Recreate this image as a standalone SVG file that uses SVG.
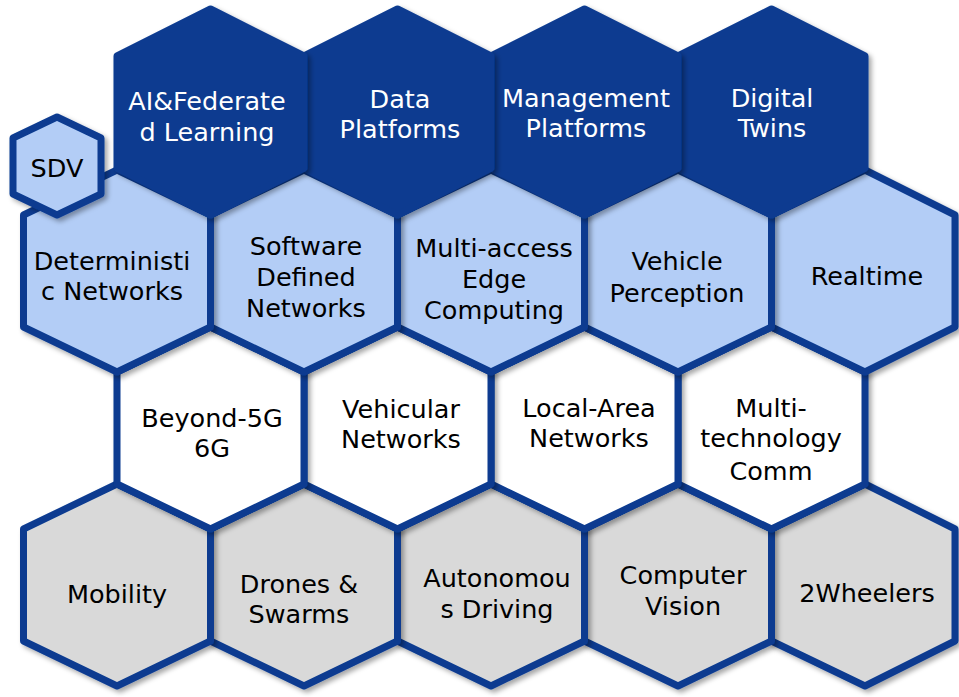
<svg xmlns="http://www.w3.org/2000/svg" width="959" height="697" viewBox="0 0 959 697">
<defs>
<filter id="sh" x="-10%" y="-10%" width="130%" height="130%">
<feDropShadow dx="3" dy="3" stdDeviation="2.5" flood-color="#000" flood-opacity="0.35"/>
</filter>
<style>
.hex{stroke:#0a3b90;stroke-width:7;stroke-linejoin:round;filter:url(#sh)}
.dark{fill:#0a3b90}
.light{fill:#b3cdf6}
.white{fill:#ffffff}
.gray{fill:#d9d9d9}
.t{font-family:"DejaVu Sans","Liberation Sans",sans-serif;font-size:25.5px;text-anchor:middle;fill:#000}
.tw{fill:#fff}
</style>
</defs>
<rect width="959" height="697" fill="#fff"/>
<g id="connectors"/>
<!-- Row 4 -->
<g id="n-2wheelers"><polygon class="hex gray" points="865,484 955,529 955,641 865,686 771.5,641 771.5,529"/><text class="t" x="867" y="602">2Wheelers</text></g>
<g id="n-computer-vision"><polygon class="hex gray" points="678,484 771.5,529 771.5,641 678,686 584.5,641 584.5,529"/><text class="t" x="683" y="584">Computer</text><text class="t" x="683" y="615">Vision</text></g>
<g id="n-autonomous-driving"><polygon class="hex gray" points="491,484 584.5,529 584.5,641 491,686 397.5,641 397.5,529"/><text class="t" x="497" y="587">Autonomou</text><text class="t" x="497" y="618">s Driving</text></g>
<g id="n-drones"><polygon class="hex gray" points="304,484 397.5,529 397.5,641 304,686 210.5,641 210.5,529"/><text class="t" x="299" y="593">Drones &amp;</text><text class="t" x="299" y="623">Swarms</text></g>
<g id="n-mobility"><polygon class="hex gray" points="117,484 210.5,529 210.5,641 117,686 23.5,641 23.5,529"/><text class="t" x="117" y="603">Mobility</text></g>
<!-- Row 3 -->
<g id="n-multi-technology"><polygon class="hex white" points="771.5,327 865,372 865,484 771.5,529 678,484 678,372"/><text class="t" x="771" y="417">Multi-</text><text class="t" x="771" y="447">technology</text><text class="t" x="771" y="480">Comm</text></g>
<g id="n-local-area"><polygon class="hex white" points="584.5,327 678,372 678,484 584.5,529 491,484 491,372"/><text class="t" x="589" y="417">Local-Area</text><text class="t" x="589" y="447">Networks</text></g>
<g id="n-vehicular"><polygon class="hex white" points="397.5,327 491,372 491,484 397.5,529 304,484 304,372"/><text class="t" x="401" y="418">Vehicular</text><text class="t" x="401" y="448">Networks</text></g>
<g id="n-beyond-5g"><polygon class="hex white" points="210.5,327 304,372 304,484 210.5,529 117,484 117,372"/><text class="t" x="212" y="427">Beyond-5G</text><text class="t" x="212" y="457">6G</text></g>
<!-- Row 2 -->
<g id="n-realtime"><polygon class="hex light" points="865,170 955,215 955,327 865,372 771.5,327 771.5,215"/><text class="t" x="867" y="285">Realtime</text></g>
<g id="n-vehicle-perception"><polygon class="hex light" points="678,170 771.5,215 771.5,327 678,372 584.5,327 584.5,215"/><text class="t" x="677" y="270">Vehicle</text><text class="t" x="677" y="302">Perception</text></g>
<g id="n-mec"><polygon class="hex light" points="491,170 584.5,215 584.5,327 491,372 397.5,327 397.5,215"/><text class="t" x="494" y="257">Multi-access</text><text class="t" x="494" y="288">Edge</text><text class="t" x="494" y="319">Computing</text></g>
<g id="n-sdn"><polygon class="hex light" points="304,170 397.5,215 397.5,327 304,372 210.5,327 210.5,215"/><text class="t" x="306" y="255">Software</text><text class="t" x="306" y="286">Defined</text><text class="t" x="306" y="317">Networks</text></g>
<g id="n-deterministic"><polygon class="hex light" points="117,170 210.5,215 210.5,327 117,372 23.5,327 23.5,215"/><text class="t" x="112" y="270">Deterministi</text><text class="t" x="112" y="300">c Networks</text></g>
<!-- Row 1 -->
<g id="n-digital-twins"><polygon class="hex dark" points="771.5,9 865,56 865,168 771.5,215 678,168 678,56"/><text class="t tw" x="772" y="107">Digital</text><text class="t tw" x="772" y="137">Twins</text></g>
<g id="n-management-platforms"><polygon class="hex dark" points="584.5,9 678,56 678,168 584.5,215 491,168 491,56"/><text class="t tw" x="586" y="107">Management</text><text class="t tw" x="586" y="137">Platforms</text></g>
<g id="n-data-platforms"><polygon class="hex dark" points="397.5,9 491,56 491,168 397.5,215 304,168 304,56"/><text class="t tw" x="400" y="108">Data</text><text class="t tw" x="400" y="138">Platforms</text></g>
<g id="n-ai-federated"><polygon class="hex dark" points="210.5,9 304,56 304,168 210.5,215 117,168 117,56"/><text class="t tw" x="207" y="110">AI&amp;Federate</text><text class="t tw" x="207" y="141">d Learning</text></g>
<!-- SDV -->
<g id="n-sdv"><polygon class="hex light" points="57,117 101,138 101,194 57,215 13,194 13,138"/><text class="t" x="57" y="177">SDV</text></g>
</svg>
